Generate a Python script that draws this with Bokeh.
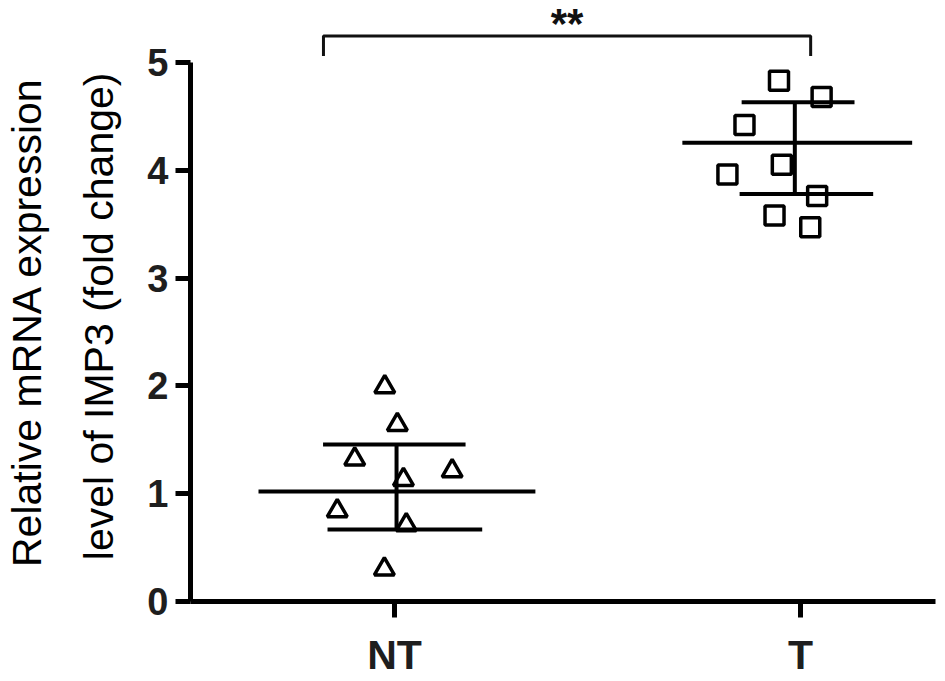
from bokeh.plotting import figure
from bokeh.models import Range1d, FixedTicker
from bokeh.embed import file_html
from bokeh.resources import INLINE
from bokeh.core.properties import value

# ---------------- data ----------------
groups = ["NT", "T"]
group_pos = [1, 2]

nt_x = [0.976, 1.007, 0.902, 1.142, 1.022, 0.859, 1.029, 0.975]
nt_y = [1.99, 1.64, 1.32, 1.21, 1.13, 0.84, 0.71, 0.30]

t_x = [1.947, 2.052, 1.862, 1.954, 1.820, 2.041, 1.936, 2.024]
t_y = [4.83, 4.68, 4.42, 4.05, 3.96, 3.76, 3.58, 3.47]

means = [1.02, 4.255]
sd_low = [0.668, 3.78]
sd_high = [1.456, 4.63]

y_ticks = [0, 1, 2, 3, 4, 5]
y_label_lines = ["Relative mRNA expression", "level of IMP3 (fold change)"]
sig_label = "**"
sig_y = 5.245
sig_drop = 0.185

# ---------------- style ----------------
FONT = "Liberation Sans"
mean_ext = [(-0.335, 0.347), (-0.291, 0.275)]
hi_ext = [(-0.176, 0.175), (-0.145, 0.133)]
lo_ext = [(-0.165, 0.216), (-0.150, 0.179)]
vline_dx = [0.005, -0.014]
bracket_ext = (-0.175, 0.025)
NB = "\u00a0"
label_pad = [3, 2]  # trailing no-break spaces to shift each line's centre down

p = figure(width=937, height=680, output_backend="svg", toolbar_location=None,
           x_range=Range1d(0.4975, 2.3325), y_range=Range1d(0, 5.5),
           min_border_left=190, min_border_right=2, min_border_top=8, min_border_bottom=0)
p.outline_line_color = None
p.grid.visible = False
p.background_fill_color = "white"
p.border_fill_color = "white"

# x axis
xa = p.xaxis[0]
xa.ticker = FixedTicker(ticks=group_pos)
xa.major_label_overrides = {g: n for g, n in zip(group_pos, groups)}
xa.minor_tick_line_color = None
xa.axis_line_width = 5
xa.axis_line_color = "black"
xa.major_tick_line_width = 5
xa.major_tick_out = 16
xa.major_tick_in = 0
xa.major_label_standoff = 14
xa.major_label_text_font = FONT
xa.major_label_text_font_style = "bold"
xa.major_label_text_font_size = "41px"
xa.major_label_text_color = "#1e1e1e"

# y axis
ya = p.yaxis[0]
ya.ticker = FixedTicker(ticks=y_ticks)
ya.bounds = (0, 5)
ya.axis_label = "\n".join(t + NB * n for t, n in zip(y_label_lines, label_pad))
ya.axis_label_text_font = FONT
ya.axis_label_text_font_style = "normal"
ya.axis_label_text_font_size = "41px"
ya.axis_label_text_line_height = 1.57
ya.axis_label_text_color = "black"
ya.axis_label_standoff = 22
ya.minor_tick_line_color = None
ya.axis_line_width = 5
ya.major_tick_line_width = 5
ya.major_tick_out = 15
ya.major_tick_in = 0
ya.major_label_standoff = 7
ya.major_label_text_font = FONT
ya.major_label_text_font_style = "bold"
ya.major_label_text_font_size = "38px"
ya.major_label_text_color = "#1e1e1e"

# points
p.scatter(nt_x, nt_y, marker="triangle", size=20, line_width=3.5,
          line_color="black", fill_color="white")
p.scatter(t_x, t_y, marker="square", size=19, line_width=3.5,
          line_color="black", fill_color="white")

# mean / SD lines
x0s, x1s, y0s, y1s = [], [], [], []
for i, g in enumerate(group_pos):
    for val, ext in ((means[i], mean_ext[i]), (sd_high[i], hi_ext[i]), (sd_low[i], lo_ext[i])):
        x0s.append(g + ext[0]); x1s.append(g + ext[1]); y0s.append(val); y1s.append(val)
    x0s.append(g + vline_dx[i]); x1s.append(g + vline_dx[i])
    y0s.append(sd_low[i]); y1s.append(sd_high[i])
p.segment(x0s, y0s, x1s, y1s, line_color="black", line_width=4)

# significance bracket
bx0 = group_pos[0] + bracket_ext[0]
bx1 = group_pos[1] + bracket_ext[1]
p.line([bx0, bx0, bx1, bx1], [sig_y - sig_drop, sig_y, sig_y, sig_y - sig_drop],
       line_color="#111111", line_width=3)
p.text(x=[(bx0 + bx1) / 2], y=[sig_y], text=[sig_label], text_align="center",
       text_baseline="middle", y_offset=-12, text_font=value(FONT),
       text_font_style="bold", text_font_size="42px", text_color="#111111")

open("out.html", "w").write(file_html(p, INLINE))
